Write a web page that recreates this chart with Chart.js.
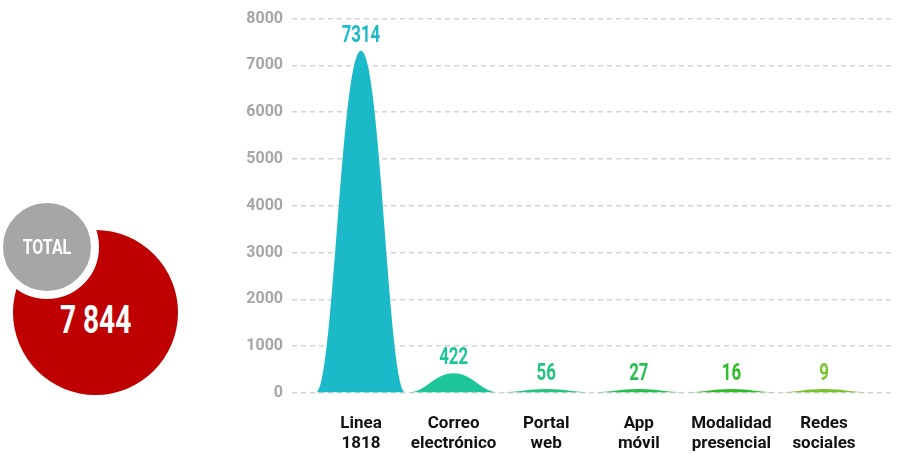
<!DOCTYPE html>
<html>
<head>
<meta charset="utf-8">
<script src="https://cdn.jsdelivr.net/npm/chart.js@4"></script>
<style>
  html, body { margin: 0; padding: 0; background: #fff; }
  #wrap { position: relative; width: 899px; height: 454px; overflow: hidden; }
  #chart { position: absolute; left: 0; top: 0; }
  .circle { position: absolute; border-radius: 50%; box-sizing: border-box;
            display: flex; align-items: center; justify-content: center;
            color: #fff; font-family: Roboto, sans-serif; font-weight: bold; }
  .circle span { display: inline-block; }
  #total-big { left: 13px; top: 230px; width: 165px; height: 165px; background: #be0000; font-size: 39px; padding-top: 14px; }
  #total-big span { transform: scaleX(0.72); }
  #total-tag { left: -5px; top: 195px; width: 104px; height: 104px; background: #a6a6a6; border: 8px solid #fff; font-size: 21px; }
  #total-tag span { transform: scaleX(0.76); }
</style>
</head>
<body>
<div id="wrap">
  <canvas id="chart" width="899" height="454"></canvas>
  <div class="circle" id="total-big"><span id="total-num"></span></div>
  <div class="circle" id="total-tag"><span>TOTAL</span></div>
</div>
<script>
// ---- data ----
const categories = [['Linea', '1818'], ['Correo', 'electrónico'], ['Portal', 'web'], ['App', 'móvil'], ['Modalidad', 'presencial'], ['Redes', 'sociales']];
const counts = [7314, 422, 56, 27, 16, 9];
const colors = ['#1cbac8', '#1ec49a', '#20c47c', '#22c04f', '#2ebe2a', '#78c42a'];
const yTicks = [0, 1000, 2000, 3000, 4000, 5000, 6000, 7000, 8000];

const FONT = 'Roboto, sans-serif';
const GRID = '#d4d4d4';

const total = counts.reduce((a, b) => a + b, 0);
document.getElementById('total-num').textContent = String(total).replace(/\B(?=(\d{3})+(?!\d))/g, ' ');

// each bar is painted as a bell-shaped peak, value printed above it
const bellPlugin = {
  id: 'bells',
  beforeDatasetDraw(chart, args) {
    const ctx = chart.ctx;
    args.meta.data.forEach((el, i) => {
      const x = el.x, top = el.y, base = el.base, hw = el.width / 2;
      ctx.save();
      ctx.fillStyle = colors[i];
      ctx.beginPath();
      ctx.moveTo(x - hw, base);
      ctx.bezierCurveTo(x - hw * 0.62, base, x - hw * 0.44, top, x, top);
      ctx.bezierCurveTo(x + hw * 0.44, top, x + hw * 0.62, base, x + hw, base);
      ctx.closePath();
      ctx.fill();
      // condensed look
      ctx.translate(x, top - 9);
      ctx.scale(0.7, 1);
      ctx.font = 'bold 24px ' + FONT;
      ctx.textAlign = 'center';
      ctx.textBaseline = 'alphabetic';
      ctx.fillText(String(counts[i]), 0, 0);
      ctx.restore();
    });
    return false;
  }
};

const ctx = document.getElementById('chart').getContext('2d');
new Chart(ctx, {
  type: 'bar',
  data: {
    datasets: [{
      data: counts.map((v, i) => ({ x: i, y: v })),
      backgroundColor: colors,
      barPercentage: 0.96,
      categoryPercentage: 1,
      minBarLength: 4
    }]
  },
  options: {
    responsive: false,
    animation: false,
    devicePixelRatio: 1,
    layout: { padding: { left: 0, right: 4, top: 9, bottom: 0 } },
    plugins: { legend: { display: false }, tooltip: { enabled: false } },
    scales: {
      x: {
        type: 'linear',
        offset: false,
        min: -0.745, max: 5.767,
        afterBuildTicks: s => { s.ticks = categories.map((c, i) => ({ value: i })); },
        afterFit: s => { s.height = 61; },
        grid: { display: false },
        border: { display: false },
        ticks: {
          color: '#111', font: { family: FONT, size: 17, weight: 'bold', lineHeight: 1.22 }, padding: 12, maxRotation: 0, autoSkip: false,
          callback: v => categories[v]
        }
      },
      y: {
        min: 0, max: 8000,
        afterBuildTicks: s => { s.ticks = yTicks.map(v => ({ value: v })); },
        afterFit: s => { s.width = 292; },
        grid: { color: GRID, lineWidth: 1.5, drawTicks: false },
        border: { display: false, dash: [5, 4] },
        ticks: { color: '#a6a6a6', font: { family: FONT, size: 16, weight: 'bold' }, padding: 9, callback: v => String(v) }
      }
    }
  },
  plugins: [bellPlugin]
});
</script>
</body>
</html>
